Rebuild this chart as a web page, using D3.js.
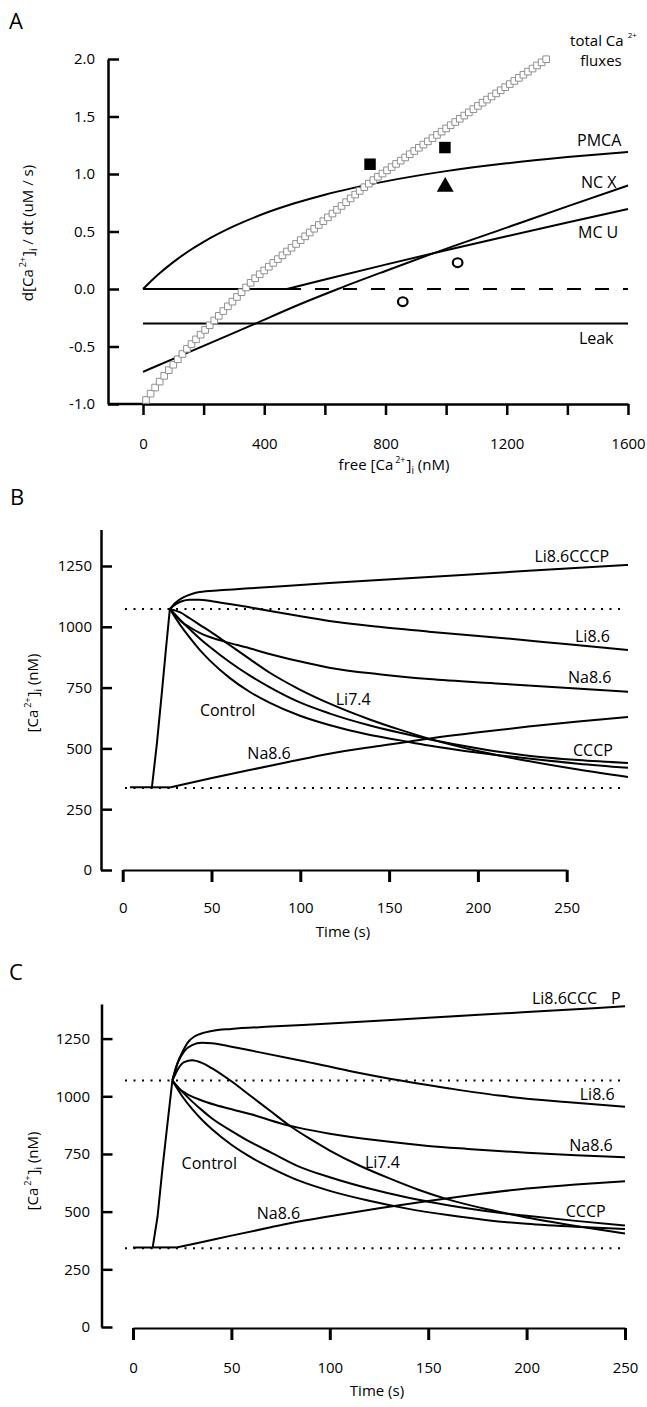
<!DOCTYPE html>
<html><head><meta charset="utf-8">
<script src="https://cdn.jsdelivr.net/npm/d3@7"></script>
<style>
body{margin:0;background:#fff}
text{font-family:"Open Sans",sans-serif;fill:#000}
</style>
</head><body>
<script>
// ---------------- Panel A data ----------------
const aXTicks = [0,200,400,600,800,1000,1200,1400,1600];
const aXLabels = [0,400,800,1200,1600];
const aYTicks = [-1.0,-0.5,0.0,0.5,1.0,1.5,2.0];
const pmca = [[0,0],[50,0.126],[100,0.234],[150,0.328],[200,0.41],[300,0.546],[400,0.656],[500,0.745],[600,0.82],[800,0.936],[1000,1.025],[1200,1.093],[1400,1.147],[1600,1.192]];
const ncx = [[0,-0.72],[100,-0.607],[200,-0.494],[363,-0.31],[500,-0.152],[643,0],[800,0.157],[957,0.31],[1200,0.534],[1400,0.718],[1600,0.9]];
const mcu = [[0,0],[475,0],[600,0.082],[800,0.212],[1000,0.337],[1200,0.459],[1400,0.578],[1600,0.695]];
const zeroDashed = [[475,0],[1600,0]];
const leak = [[0,-0.3],[1600,-0.3]];
const fluxX = [10,25,40,55,70,85,100,115,130,145,160,175,190,205,220,235,250,265,280,295,310,325,340,355,370,385,400,415,430,445,460,475,490,505,520,535,550,565,580,595,610,625,640,655,670,685,700,715,730,745,760,775,790,805,820,835,850,865,880,895,910,925,940,955,970,985,1000,1015,1030,1045,1060,1075,1090,1105,1120,1135,1150,1165,1180,1195,1210,1225,1240,1255,1270,1285,1300,1315,1330];
const fluxY = [-0.965,-0.91,-0.857,-0.805,-0.755,-0.706,-0.658,-0.611,-0.565,-0.52,-0.479,-0.438,-0.397,-0.356,-0.315,-0.274,-0.233,-0.192,-0.151,-0.11,-0.069,-0.028,0.013,0.054,0.093,0.128,0.161,0.194,0.227,0.26,0.293,0.326,0.359,0.392,0.425,0.458,0.491,0.524,0.557,0.59,0.623,0.656,0.689,0.722,0.755,0.788,0.821,0.853,0.885,0.916,0.947,0.976,1.004,1.032,1.06,1.088,1.116,1.144,1.172,1.2,1.228,1.256,1.284,1.312,1.34,1.368,1.396,1.424,1.452,1.48,1.508,1.536,1.564,1.592,1.62,1.647,1.674,1.701,1.728,1.755,1.782,1.809,1.836,1.863,1.89,1.917,1.944,1.971,1.998];
const expSquares = [[749,1.085],[996,1.23]];
const expTriangles = [[997,0.889]];
const expCircles = [[1038,0.229],[857,-0.11]];

// ---------------- Panel B data ----------------
const bXTicks = [0,50,100,150,200,250];
const bYTicks = [0,250,500,750,1000,1250];
const bRefLevels = [1073,337];
const bRise = [[0,340],[11,340],[13.5,520],[16,730],[18,905],[20,1073]];
const bNa86Rise = [[11,340],[20.5,340],[40,376],[60,411],[80,445],[100,478],[125,510],[150,540],[175,566],[200,590],[225,611],[250,629]];
const bLi86CCCP = [[20,1073],[23,1100],[27,1122],[31,1135],[35,1143],[45,1150],[60,1158],[100,1180],[150,1205],[200,1230],[250,1254]];
const bLi86 = [[20,1073],[23,1093],[26,1105],[30,1111],[35,1111],[45,1100],[60,1080],[85,1044],[100,1024],[125,1000],[150,980],[185,955],[220,928],[250,905]];
const bNa86 = [[20,1073],[23,1045],[26,1020],[30,998],[35,975],[40,958],[48,938],[60,912],[70,888],[85,858],[100,832],[125,805],[150,785],[186,766],[220,748],[250,733]];
const bLi74 = [[20,1073],[25,1060],[30,1035],[35,1008],[40,982],[50,925],[60,868],[70,812],[85,743],[100,685],[120,620],[135,578],[150,540],[175,488],[200,448],[225,413],[250,382]];
const bCCCP = [[20,1073],[25,1030],[30,990],[35,952],[40,918],[50,855],[60,800],[70,752],[85,690],[100,644],[120,595],[135,565],[150,538],[175,500],[200,470],[225,452],[250,440]];
const bControl = [[20,1073],[25,1010],[30,955],[35,905],[40,862],[50,790],[60,733],[70,688],[85,635],[100,596],[120,556],[135,534],[150,512],[175,482],[200,458],[225,437],[250,420]];

// ---------------- Panel C data ----------------
const cXTicks = [0,50,100,150,200,250];
const cYTicks = [0,250,500,750,1000,1250];
const cRefLevels = [1068,341];
const cRise = [[0,345],[10,345],[12.5,480],[15,690],[17.5,880],[20,1068]];
const cNa86Rise = [[10,345],[22,345],[30,359],[50,396],[70,432],[85,458],[100,480],[125,515],[150,546],[175,575],[200,600],[225,618],[250,632]];
const cLi86CCCP = [[20,1068],[22,1130],[25,1190],[28,1235],[31,1258],[34,1270],[40,1283],[50,1292],[70,1302],[100,1315],[150,1340],[200,1365],[250,1390]];
const cLi86 = [[20,1068],[23,1150],[26,1195],[30,1222],[35,1232],[40,1230],[50,1215],[60,1198],[85,1155],[110,1110],[136,1068],[160,1035],[186,1003],[220,975],[250,955]];
const cLi74 = [[20,1068],[23,1120],[26,1148],[30,1156],[35,1145],[40,1122],[50,1065],[60,1000],[70,935],[80,870],[90,815],[100,765],[115,700],[130,645],[145,595],[160,553],[180,510],[200,475],[225,438],[250,405]];
const cNa86 = [[20,1068],[23,1035],[27,1012],[34,985],[42,962],[51,942],[60,922],[76,880],[85,862],[100,838],[125,808],[150,785],[170,772],[200,755],[225,744],[250,736]];
const cCCCP = [[20,1068],[25,1020],[30,978],[35,940],[40,905],[51,845],[60,800],[70,757],[85,693],[100,649],[120,600],[140,560],[160,528],[180,502],[200,482],[225,460],[250,440]];
const cControl = [[20,1068],[25,1000],[30,945],[35,898],[40,858],[50,790],[60,735],[70,690],[85,632],[100,590],[120,547],[140,512],[160,485],[180,463],[200,447],[225,434],[250,425]];

// ---------------- drawing ----------------
const svg = d3.select('body').append('svg').attr('width',647).attr('height',1407).style('display','block');

function styleAxis(g, domainW, tickW, fs){
  g.attr('font-family',null).attr('font-size',null);
  g.select('.domain').attr('stroke','#000').attr('stroke-width',domainW);
  g.selectAll('.tick line').attr('stroke','#000').attr('stroke-width',tickW);
  g.selectAll('.tick text').attr('font-size',fs).attr('fill','#000');
}
function path(g, data, xs, ys, curve, opts={}){
  const line = d3.line().x(d=>xs(d[0])).y(d=>ys(d[1])).curve(curve||d3.curveMonotoneX);
  const p = g.append('path').attr('d',line(data)).attr('fill','none').attr('stroke','#000')
    .attr('stroke-width',opts.w||2).attr('stroke-linejoin','round');
  if(opts.dash) p.attr('stroke-dasharray',opts.dash);
  return p;
}
// a trace that is flat first, then bends: flat part straight, rest smooth
function kinkedPath(g, data, xs, ys){
  path(g, data.slice(0,2), xs, ys, d3.curveLinear);
  path(g, data.slice(1), xs, ys, d3.curveMonotoneX);
}
function label(g, txt, x, y, fs, anchor){
  return g.append('text').attr('x',x).attr('y',y).attr('font-size',fs||16).attr('text-anchor',anchor||'start').text(txt);
}
function caLabel(g, x, y, rotate, prefix, suffix){
  const t = g.append('text').attr('font-size',15).attr('text-anchor','middle')
    .attr('transform',`translate(${x},${y})` + (rotate?' rotate(-90)':''));
  t.append('tspan').text(prefix + '[Ca');
  t.append('tspan').attr('font-size',9).attr('dy',-7).attr('dx',2).text('2+');
  t.append('tspan').attr('dy',7).attr('dx',1).text(']');
  t.append('tspan').attr('font-size',10).attr('dy',4).text('i');
  t.append('tspan').attr('dy',-4).text(suffix);
  return t;
}
const fmt1 = d => d.toFixed(1);
const fmt0 = d => String(d);

// ===== Panel A =====
const gA = svg.append('g');
const xA = d3.scaleLinear().domain([0,1600]).range([143,628]);
const yA = d3.scaleLinear().domain([-1,2]).range([404,59]);
label(gA,'A',9,29,22);
const axAy = gA.append('g').attr('transform','translate(108,0)')
  .call(d3.axisLeft(yA).tickValues(aYTicks).tickSize(-11).tickSizeOuter(0).tickPadding(13).tickFormat(fmt1));
styleAxis(axAy,2.5,2.5,15);
const axAx = gA.append('g').attr('transform','translate(0,404)')
  .call(d3.axisBottom(xA).tickValues(aXTicks).tickSize(11).tickSizeOuter(0).tickPadding(23)
    .tickFormat(d=>aXLabels.includes(d)?fmt0(d):''));
styleAxis(axAx,2.5,2.5,15);
gA.append('line').attr('x1',108).attr('x2',143).attr('y1',404).attr('y2',404).attr('stroke','#000').attr('stroke-width',2.5);

path(gA, pmca, xA, yA, d3.curveMonotoneX);
path(gA, mcu, xA, yA, d3.curveLinear);
path(gA, zeroDashed, xA, yA, d3.curveLinear, {dash:'14,14'});
path(gA, ncx, xA, yA, d3.curveMonotoneX);
path(gA, leak, xA, yA, d3.curveLinear);

const sq = d3.symbol().type(d3.symbolSquare).size(44);
gA.append('g').selectAll('path').data(fluxX.map((x,i)=>[x,fluxY[i]])).join('path')
  .attr('d',sq).attr('transform',d=>`translate(${xA(d[0])},${yA(d[1])})`)
  .attr('fill','#fff').attr('stroke','#909090').attr('stroke-width',1);

gA.append('g').selectAll('path').data(expSquares).join('path')
  .attr('d',d3.symbol().type(d3.symbolSquare).size(132)).attr('transform',d=>`translate(${xA(d[0])},${yA(d[1])})`).attr('fill','#000');
gA.append('g').selectAll('path').data(expTriangles).join('path')
  .attr('d',d3.symbol().type(d3.symbolTriangle).size(125)).attr('transform',d=>`translate(${xA(d[0])},${yA(d[1])})`).attr('fill','#000');
gA.append('g').selectAll('ellipse').data(expCircles).join('ellipse')
  .attr('cx',d=>xA(d[0])).attr('cy',d=>yA(d[1])).attr('rx',4.8).attr('ry',4.4)
  .attr('fill','none').attr('stroke','#000').attr('stroke-width',2.2);

const tc = label(gA,'total Ca',xA(1409),yA(2.115),15);
tc.append('tspan').attr('font-size',8).attr('dy',-8).attr('dx',4).text('2+');
label(gA,'fluxes',xA(1511),yA(1.942),15,'middle');
label(gA,'PMCA',xA(1432),yA(1.246),16);
label(gA,'NC X',xA(1445),yA(0.878),16);
label(gA,'MC U',xA(1435),yA(0.443),16);
label(gA,'Leak',xA(1438),yA(-0.478),16);

caLabel(gA, 33, 233, true, 'd', ' / dt (uM / s)');
caLabel(gA, 394, 470, false, 'free ', ' (nM)');

// ===== Panel B =====
const gB = svg.append('g');
const yB = d3.scaleLinear().domain([0,1400]).range([870,529.5]);
const xBaxis = d3.scaleLinear().domain([0,250]).range([122.7,566.7]);
const tB = d3.scaleLinear().domain([0,250]).range([130,628]);
label(gB,'B',10,505,22);
const axBy = gB.append('g').attr('transform','translate(101,0)')
  .call(d3.axisLeft(yB).tickValues(bYTicks).tickSize(-11).tickSizeOuter(0).tickPadding(9).tickFormat(fmt0));
styleAxis(axBy,2.5,2.5,15);
const axBx = gB.append('g').attr('transform','translate(0,870)')
  .call(d3.axisBottom(xBaxis).tickValues(bXTicks).tickSize(12).tickSizeOuter(0).tickPadding(20).tickFormat(fmt0));
styleAxis(axBx,2,3,15);
gB.append('g').selectAll('line').data(bRefLevels).join('line')
  .attr('x1',125).attr('x2',624).attr('y1',d=>yB(d)).attr('y2',d=>yB(d))
  .attr('stroke','#000').attr('stroke-width',2).attr('stroke-dasharray','2,6.5');
path(gB, bRise, tB, yB, d3.curveLinear);
kinkedPath(gB, bNa86Rise, tB, yB);
[bLi86CCCP,bLi86,bNa86,bLi74,bCCCP,bControl].forEach(s=>path(gB, s, tB, yB, d3.curveMonotoneX));
label(gB,'Li8.6CCCP',tB(203),yB(1268),16);
label(gB,'Li8.6',tB(223.4),yB(939),16);
label(gB,'Na8.6',tB(219.9),yB(768),16);
label(gB,'Li7.4',tB(103.3),yB(678),16);
label(gB,'CCCP',tB(222.4),yB(469),16);
label(gB,'Control',tB(35.1),yB(633),16);
label(gB,'Na8.6',tB(58.9),yB(456),16);
caLabel(gB, 38, 693, true, '', ' (nM)');
label(gB,'Time (s)',343,937,15,'middle');

// ===== Panel C =====
const gC = svg.append('g');
const yC = d3.scaleLinear().domain([0,1400]).range([1327,1004]);
const xC = d3.scaleLinear().domain([0,250]).range([133,625]);
label(gC,'C',9,980,22);
const axCy = gC.append('g').attr('transform','translate(101.5,0)')
  .call(d3.axisLeft(yC).tickValues(cYTicks).tickSize(-11).tickSizeOuter(0).tickPadding(11.5).tickFormat(fmt0));
styleAxis(axCy,2.5,2.5,15);
const axCx = gC.append('g').attr('transform','translate(0,1328)')
  .call(d3.axisBottom(xC).tickValues(cXTicks).tickSize(12).tickSizeOuter(0).tickPadding(22).tickFormat(fmt0));
styleAxis(axCx,2,3,15);
gC.append('g').selectAll('line').data(cRefLevels).join('line')
  .attr('x1',125).attr('x2',625).attr('y1',d=>yC(d)).attr('y2',d=>yC(d))
  .attr('stroke','#000').attr('stroke-width',2).attr('stroke-dasharray','2,6.5');
path(gC, cRise, xC, yC, d3.curveLinear);
kinkedPath(gC, cNa86Rise, xC, yC);
[cLi86CCCP,cLi86,cNa86,cLi74,cCCCP,cControl].forEach(s=>path(gC, s, xC, yC, d3.curveMonotoneX));
label(gC,'Li8.6CCC',xC(202.7),yC(1402),16);
label(gC,'P',xC(242.9),yC(1402),16);
label(gC,'Li8.6',xC(227),yC(986),16);
label(gC,'Na8.6',xC(221.7),yC(765),16);
label(gC,'Li7.4',xC(117.9),yC(690),16);
label(gC,'CCCP',xC(219.9),yC(476),16);
label(gC,'Control',xC(24.7),yC(683),16);
label(gC,'Na8.6',xC(62.9),yC(466),16);
caLabel(gC, 38, 1171, true, '', ' (nM)');
label(gC,'Time (s)',377,1396,15,'middle');
</script>
</body></html>
